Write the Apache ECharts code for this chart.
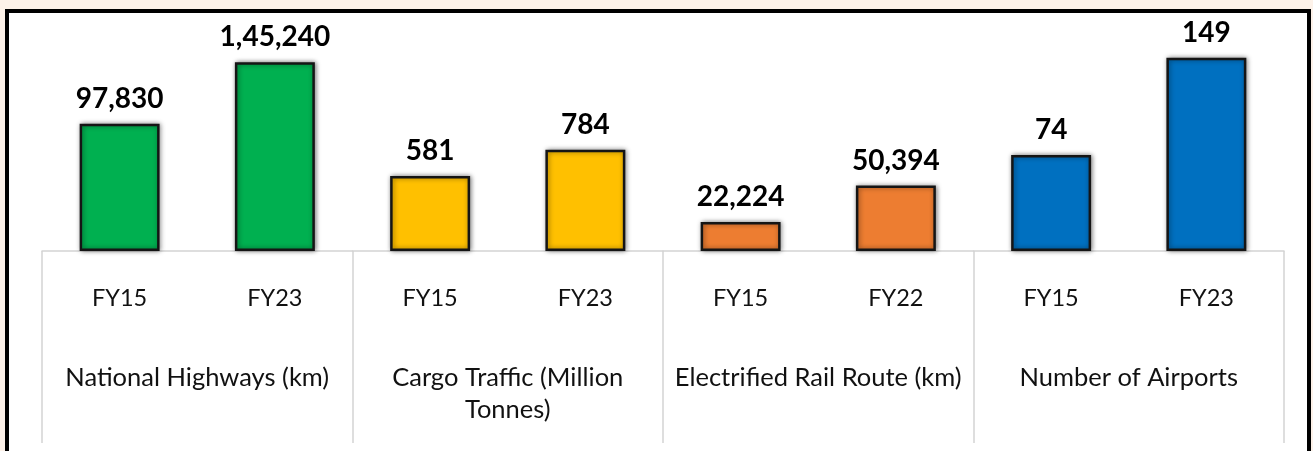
<!DOCTYPE html>
<html>
<head>
<meta charset="utf-8">
<script src="https://cdn.jsdelivr.net/npm/echarts@6/dist/echarts.min.js"></script>
<style>
  html, body { margin: 0; padding: 0; background: #fdf2e9; width: 1313px; height: 451px; overflow: hidden; }
  #box { position: absolute; left: 5px; top: 9px; width: 1298px; height: 500px; border: 4px solid #000; background: #fff; }
  #chart { position: absolute; left: 0; top: 0; width: 1313px; height: 451px; }
</style>
</head>
<body>
<div id="box"></div>
<div id="chart"></div>
<script>
// ---- data ----
const groupNames = ["National Highways (km)", "Cargo Traffic (Million\nTonnes)", "Electrified Rail Route (km)", "Number of Airports"];
const periods1 = ["FY15", "FY23"];
const periods2 = ["FY15", "FY23"];
const periods3 = ["FY15", "FY22"];
const periods4 = ["FY15", "FY23"];
const highways = [97830, 145240];
const cargo = [581, 784];
const rail = [22224, 50394];
const airports = [74, 149];
const axisMax = [170000, 1713, 170000, 170.5];

const periods = [periods1, periods2, periods3, periods4];
const values = [highways, cargo, rail, airports];
const colors = ['#00b050', '#ffc000', '#ed7d31', '#0070c0'];

const fmt = v => {
  // Indian digit grouping
  const s = String(v);
  if (s.length <= 3) return s;
  const last3 = s.slice(-3);
  let rest = s.slice(0, -3);
  const parts = [];
  while (rest.length > 2) { parts.unshift(rest.slice(-2)); rest = rest.slice(0, -2); }
  if (rest.length) parts.unshift(rest);
  return parts.join(',') + ',' + last3;
};

const gLeft = 42, gRight = 1284, gTop = 30, gBase = 251;
const gw = (gRight - gLeft) / 4;
const FONT = 'Lato, "Open Sans", sans-serif';

const grid = [], xAxis = [], yAxis = [], series = [];
for (let i = 0; i < 4; i++) {
  grid.push({ left: gLeft + i * gw, width: gw, top: gTop, height: gBase - gTop, containLabel: false });
  xAxis.push({
    type: 'category', gridIndex: i, position: 'bottom', data: periods[i],
    axisLine: { show: true, lineStyle: { color: '#d4d4d4', width: 1.5 } },
    axisTick: { show: false },
    axisLabel: { color: '#111', fontFamily: FONT, fontSize: 23.5, margin: 35 }
  });
  xAxis.push({
    type: 'category', gridIndex: i, position: 'bottom', data: [groupNames[i]],
    axisLine: { show: false },
    axisTick: { show: true, length: 192, inside: false, lineStyle: { color: '#d4d4d4', width: 1.5 } },
    axisLabel: { color: '#111', fontFamily: FONT, fontSize: 25.5, margin: 111, lineHeight: 32, interval: 0 }
  });
  yAxis.push({ type: 'value', gridIndex: i, min: 0, max: axisMax[i], show: false, splitLine: { show: false } });
  series.push({
    type: 'bar', xAxisIndex: 2 * i, yAxisIndex: i, data: values[i], barWidth: '51.5%',
    itemStyle: {
      color: colors[i], borderColor: '#151515', borderWidth: 2.5,
      shadowBlur: 5, shadowColor: 'rgba(0,0,0,0.45)', shadowOffsetX: 1, shadowOffsetY: 0
    },
    label: {
      show: true, position: 'top', distance: 11, color: '#000',
      fontFamily: FONT, fontWeight: 'bold', fontSize: 28,
      formatter: p => fmt(p.value)
    },
    animation: false
  });
}

const chart = echarts.init(document.getElementById('chart'), null, { renderer: 'canvas' });
chart.setOption({ backgroundColor: 'transparent', animation: false, grid, xAxis, yAxis, series });
</script>
</body>
</html>
